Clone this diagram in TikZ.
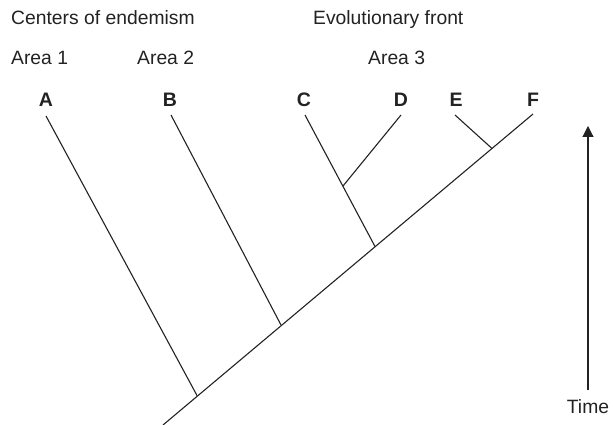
\documentclass[tikz,border=0pt]{standalone}
\usepackage{fontspec}
\setmainfont{Liberation Sans}
\usetikzlibrary{arrows.meta}
\definecolor{ink}{HTML}{222222}
\begin{document}
\begin{tikzpicture}[x=1pt,y=-1pt,
  lab/.style={inner sep=0pt,anchor=base west,font=\fontsize{19.3}{21}\selectfont,text=ink},
  taxon/.style={inner sep=0pt,anchor=base,font=\fontsize{19.5}{21}\selectfont\bfseries,text=ink},
  branch/.style={draw=ink,line width=1.1pt},
  timearrow/.style={draw=ink,line width=1.1pt,-{Triangle[length=11pt,width=11pt]}}]
\useasboundingbox (0,0) rectangle (613,425);
% headings
\node[lab] (hcen) at (11,25) {Centers of endemism};
\node[lab] (hevo) at (313,25) {Evolutionary front};
\node[lab] (ar1) at (11,65) {Area 1};
\node[lab] (ar2) at (137,65) {Area 2};
\node[lab] (ar3) at (368,65) {Area 3};
% taxa
\node[taxon] (A) at (46,107) {A};
\node[taxon] (B) at (170,107) {B};
\node[taxon] (C) at (304,107) {C};
\node[taxon] (D) at (401,107) {D};
\node[taxon] (E) at (456,107) {E};
\node[taxon] (F) at (533,107) {F};
% tips
\coordinate (tA) at (46,116);
\coordinate (tB) at (171,115);
\coordinate (tC) at (305,115);
\coordinate (tD) at (401,115);
\coordinate (tE) at (455,115);
\coordinate (tF) at (533,114);
% junctions
\coordinate (root) at (163,425);
\coordinate (jA) at (197,395.5);
\coordinate (jB) at (281,325);
\coordinate (jC) at (375,246.5);
\coordinate (jD) at (343,186);
\coordinate (jE) at (492,148.5);
% branches
\draw[branch] (root) -- (tF);
\draw[branch] (tA) -- (jA);
\draw[branch] (tB) -- (jB);
\draw[branch] (tC) -- (jC);
\draw[branch] (tD) -- (jD);
\draw[branch] (tE) -- (jE);
% time
\node[inner sep=0pt,anchor=base,font=\fontsize{19.3}{21}\selectfont,text=ink] (time) at (588,413) {Time};
\coordinate (tbot) at (588,390);
\coordinate (ttop) at (588,126);
\draw[timearrow] (tbot) -- (ttop);
\end{tikzpicture}
\end{document}
